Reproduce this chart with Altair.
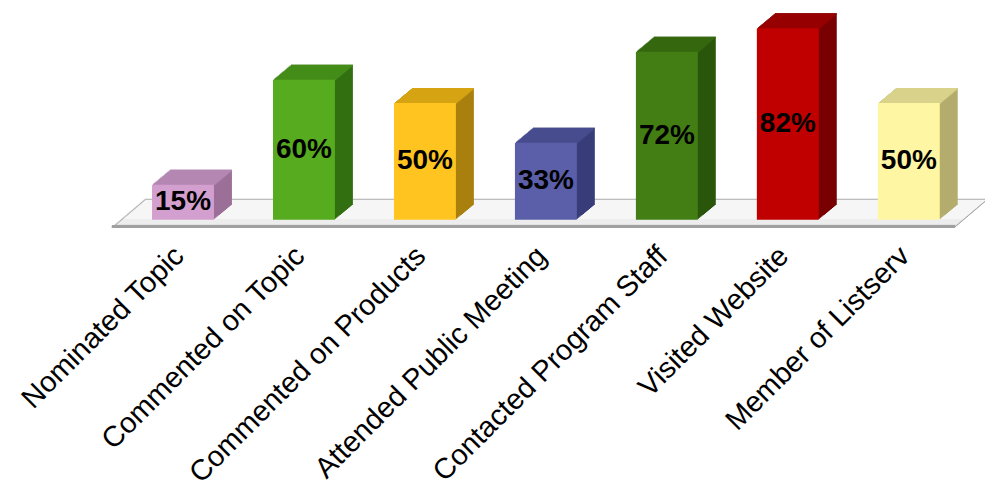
import altair as alt
import pandas as pd

# ---- data ----
categories = ["Nominated Topic", "Commented on Topic", "Commented on Products",
              "Attended Public Meeting", "Contacted Program Staff", "Visited Website",
              "Member of Listserv"]
values = [15, 60, 50, 33, 72, 82, 50]

# ---- styles ----
front_colors = ["#D29FCE", "#57AB1E", "#FFC41F", "#5B5FA9", "#427E13", "#C00000", "#FFF6A3"]
side_colors = ["#9C6F99", "#316F10", "#A9800D", "#383C78", "#2A560C", "#780000", "#B3AC6C"]
top_colors = ["#B586B2", "#458C18", "#D6A312", "#474C8E", "#36690F", "#990000", "#D9D28A"]

FONT = "Liberation Sans"
W, H = 880, 220
YMIN, YMAX = -3.5, 90.5
PX = H / (YMAX - YMIN)  # pixels per data unit

df = pd.DataFrame({"cat": categories, "value": values})
floor_thin = pd.DataFrame({"y0": [YMIN], "y1": [YMIN + 1.4 / PX]})
floor_edge = pd.DataFrame({"y0": [YMIN], "y1": [YMIN + 3 / PX]})

color_domain = ([f"front|{c}" for c in categories] + [f"side|{c}" for c in categories]
                + [f"top|{c}" for c in categories])
color_range = front_colors + side_colors + top_colors
color_enc = alt.Color("key:N", scale=alt.Scale(domain=color_domain, range=color_range),
                      legend=None)

y_scale = alt.Scale(domain=[YMIN, YMAX], nice=False, zero=False)
x_enc = alt.X(
    "cat:N", sort=categories,
    scale=alt.Scale(paddingInner=0.488, paddingOuter=0.374),
    axis=alt.Axis(title=None, labelAngle=-45, labelAlign="right", labelBaseline="middle",
                  labelPadding=23, labelOffset=-4, labelFontSize=29, labelFont=FONT,
                  labelColor="black", labelLimit=600, domain=False, ticks=False, grid=False),
)

layers = []

# ---- floor (decorative slab swept into a parallelogram) ----
FL_STEPS = 28
FL_DX = 33 / FL_STEPS
fx0, fx1 = 5, 850
for k in range(FL_STEPS + 1):
    layers.append(
        alt.Chart(floor_thin).mark_rect(color="#ABABAB", xOffset=FL_DX * k,
                                        x2Offset=FL_DX * k, yOffset=-k, y2Offset=-k).encode(
            x=alt.value(fx0), x2=alt.value(fx1),
            y=alt.Y("y0:Q", scale=y_scale, axis=None), y2="y1:Q")
    )
for k in range(FL_STEPS):
    shade = "#F6F6F6" if k > 8 else ("#E2E2E2" if k < 4 else "#EDEDED")
    layers.append(
        alt.Chart(floor_thin).mark_rect(color=shade, xOffset=FL_DX * k, x2Offset=FL_DX * k,
                                        yOffset=-k, y2Offset=-k).encode(
            x=alt.value(fx0 + 1.6), x2=alt.value(fx1 - 1.6),
            y=alt.Y("y0:Q", scale=y_scale, axis=None), y2="y1:Q")
    )
layers.append(
    alt.Chart(floor_edge).mark_rect(color="#A0A0A0").encode(
        x=alt.value(fx0), x2=alt.value(fx1),
        y=alt.Y("y0:Q", scale=y_scale, axis=None), y2="y1:Q")
)

# ---- 3D bars ----
STEPS = 15
DX = 18 / STEPS
bars = alt.Chart(df)
for k in range(1, STEPS + 1):
    layers.append(
        bars.transform_calculate(key="'side|' + datum.cat", z="0").mark_bar(
            xOffset=DX * k, x2Offset=DX * k, yOffset=-k, y2Offset=-k).encode(
            x=x_enc, y=alt.Y("value:Q", scale=y_scale, axis=None), y2="z:Q",
            color=color_enc)
    )
for k in range(1, STEPS + 1):
    layers.append(
        bars.transform_calculate(key="'top|' + datum.cat",
                                 lo=f"datum.value - {1.5 / PX}").mark_bar(
            xOffset=DX * k, x2Offset=DX * k, yOffset=-k, y2Offset=-k).encode(
            x=x_enc, y=alt.Y("value:Q", scale=y_scale, axis=None), y2="lo:Q",
            color=color_enc)
    )
layers.append(
    bars.transform_calculate(key="'front|' + datum.cat", z="0").mark_bar().encode(
        x=x_enc, y=alt.Y("value:Q", scale=y_scale, axis=None), y2="z:Q",
        color=color_enc)
)
layers.append(
    bars.transform_calculate(mid="datum.value / 2", lab="datum.value + '%'").mark_text(
        font=FONT, fontSize=28, fontWeight="bold", color="black", baseline="middle",
        align="center").encode(
        x=x_enc, y=alt.Y("mid:Q", scale=y_scale, axis=None), text="lab:N")
)

chart = alt.layer(*layers).properties(
    width=W, height=H,
    autosize=alt.AutoSizeParams(type="none"),
    padding={"left": 99, "top": 0, "right": 0, "bottom": 259},
    background="white",
).configure_view(stroke=None)

chart.save("out.html", embed_options={"renderer": "svg", "actions": False})
